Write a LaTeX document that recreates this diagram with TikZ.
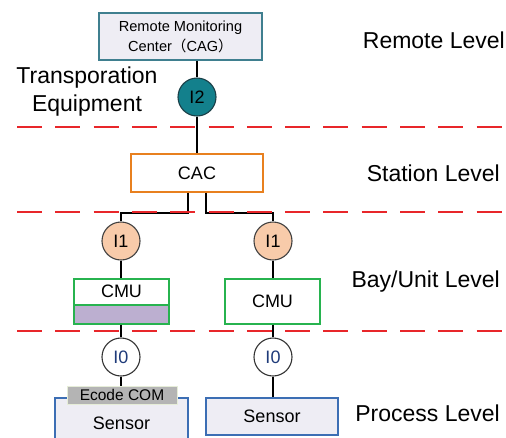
\documentclass[tikz,border=0pt]{standalone}
\usepackage{fontspec}
\setmainfont{Liberation Sans}
\newfontfamily\cjk{Noto Sans CJK SC}
\definecolor{paleblue}{HTML}{EEEDF4}
\definecolor{tealedge}{HTML}{3F7F8F}
\definecolor{tealfill}{HTML}{13808C}
\definecolor{tealdark}{HTML}{1B3F47}
\definecolor{cacorange}{HTML}{E8801F}
\definecolor{peach}{HTML}{F8CBAA}
\definecolor{cmugreen}{HTML}{27B34F}
\definecolor{cmulav}{HTML}{BCAFD0}
\definecolor{sensorblue}{HTML}{3C6EB4}
\definecolor{ecodegrey}{HTML}{B4B4B4}
\definecolor{ecodeedge}{HTML}{E6EDD8}
\definecolor{levelred}{HTML}{E8262A}
\definecolor{ionavy}{HTML}{1F3B7A}
\tikzset{
  conn/.style={draw=black, line width=1.3pt},
  levelsep/.style={draw=levelred, line width=1.4pt, dash pattern=on 25pt off 13.3pt},
  boxtext/.style={font=\fontsize{18}{21}\selectfont, text=black},
  levellabel/.style={font=\fontsize{23}{28}\selectfont, anchor=east, inner sep=0pt},
  ifcircle/.style={circle, minimum size=38pt, inner sep=0pt, line width=1.1pt, boxtext},
  cmubox/.style={rectangle, draw=cmugreen, fill=white, line width=1.4pt, minimum width=95pt, minimum height=45pt, inner sep=0pt},
  sensorbox/.style={rectangle, draw=sensorblue, fill=paleblue, line width=1.3pt, inner sep=0pt, boxtext},
}
\begin{document}
\begin{tikzpicture}[x=1pt, y=-1pt]
\useasboundingbox (0,0) rectangle (506,437);

% remote level
\node[rectangle, draw=tealedge, fill=paleblue, line width=1.3pt, minimum width=163pt, minimum height=47pt, inner sep=0pt, align=center, font=\fontsize{14.6}{20}\selectfont] (rmc) at (180.5,36.5) {Remote Monitoring\\Center{\cjk（}CAG{\cjk）}};
\node[ifcircle, draw=tealdark, fill=tealfill] (i2) at (197,97) {I2};
\node[align=center, font=\fontsize{23}{28}\selectfont, inner sep=0pt] (transp) at (87,92) {Transporation\\Equipment};

% station level
\node[rectangle, draw=cacorange, fill=white, line width=1.3pt, minimum width=132pt, minimum height=38pt, inner sep=0pt, boxtext] (cac) at (197,173) {CAC};

% bay / unit level
\node[ifcircle, draw=black!75, fill=peach] (i1l) at (121,241) {I1};
\node[ifcircle, draw=black!75, fill=peach] (i1r) at (273,241) {I1};
\node[cmubox, path picture={
    \fill[cmulav] (path picture bounding box.south west) rectangle ([yshift=-26pt]path picture bounding box.north east);
    \draw[cmugreen, line width=1.4pt] ([yshift=-26pt]path picture bounding box.north west) -- ([yshift=-26pt]path picture bounding box.north east);
  }] (cmul) at (121.5,301.5) {};
\node[boxtext, inner sep=0pt] (cmultext) at (121.5,291.5) {CMU};
\node[cmubox, boxtext] (cmur) at (272.5,301.5) {CMU};

% process level
\node[ifcircle, draw=black!80, fill=white, text=ionavy] (i0l) at (121,357) {I0};
\node[ifcircle, draw=black!80, fill=white, text=ionavy] (i0r) at (273,357) {I0};
\node[sensorbox, minimum width=133pt, minimum height=44pt, text depth=0pt] (sensl) at (121.5,420) {};
\node[boxtext, inner sep=0pt] (sensltext) at (121.5,423) {Sensor};
\node[rectangle, draw=ecodeedge, fill=ecodegrey, line width=0.8pt, minimum width=110pt, minimum height=18pt, inner sep=0pt, font=\fontsize{15.5}{18}\selectfont] (ecode) at (122,395) {Ecode COM};
\node[sensorbox, minimum width=132pt, minimum height=37pt] (sensr) at (272,416.5) {Sensor};

% connectors
\coordinate (bus) at (0,213);
\draw[conn] (rmc.south -| i2) -- (i2);
\draw[conn] (i2) -- (cac);
\draw[conn] ([xshift=-9pt]cac.south) -- ([xshift=-9pt]cac.south |- bus) -| (i1l.north);
\draw[conn] ([xshift=9pt]cac.south) -- ([xshift=9pt]cac.south |- bus) -| (i1r.north);
\draw[conn] (i1l) -- (cmul.north -| i1l);
\draw[conn] (cmul.south -| i0l) -- (i0l);
\draw[conn] (i0l) -- (ecode.north -| i0l);
\draw[conn] (i1r) -- (cmur.north -| i1r);
\draw[conn] (cmur.south -| i0r) -- (i0r);
\draw[conn] (i0r) -- (sensr.north -| i0r);

% level separators
\draw[levelsep] (17,127) -- (506,127);
\draw[levelsep] (17,212) -- (506,212);
\draw[levelsep] (17,331) -- (506,331);

% level labels
\node[levellabel] (lremote) at (505,40) {Remote Level};
\node[levellabel] (lstation) at (500,173) {Station Level};
\node[levellabel] (lbay) at (500,282) {Bay/Unit Level};
\node[levellabel] (lprocess) at (500,413) {Process Level};
\end{tikzpicture}
\end{document}
